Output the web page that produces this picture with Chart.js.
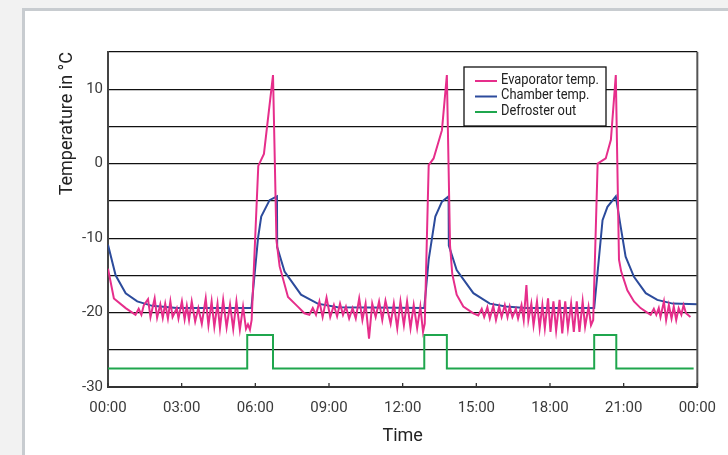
<!DOCTYPE html>
<html lang="en">
<head>
  <meta charset="UTF-8" />
  <title>Defrost cycle - Temperatures</title>
  <script src="https://cdn.jsdelivr.net/npm/chart.js"></script>
  <style>
    body {
      margin: 0;
      width: 728px;
      height: 455px;
      overflow: hidden;
      position: relative;
      background: #f2f2f2;
      font-family: Roboto, sans-serif;
    }

    .card {
      position: absolute;
      left: 22px;
      top: 8px;
      width: 760px;
      height: 500px;
      background: #ffffff;
      border: 3px solid #c8ccd0;
      box-sizing: border-box;
    }

    #tempChart {
      position: absolute;
      left: 0;
      top: 0;
    }
  </style>
</head>
<body>

  <div class="card"></div>
  <canvas id="tempChart" width="728" height="455"></canvas>

  <script>
    // x axis: hours of the day
    const timeLabels = ['00:00', '03:00', '06:00', '09:00', '12:00', '15:00', '18:00', '21:00', '00:00'];
    const tempLabelled = [-30, -20, -10, 0, 10];

    // Evaporator temp. (°C)
    const evapHours = [
      0, 0.24, 0.72, 1.12, 1.25, 1.36, 1.46, 1.63, 1.73, 1.90, 2.00, 2.13, 2.23, 2.33, 2.44, 2.54, 2.63, 2.80, 2.87,
      3.01, 3.12, 3.21, 3.30, 3.41, 3.55, 3.68, 3.82, 3.98, 4.09, 4.22, 4.33, 4.46, 4.56, 4.69, 4.83, 4.97, 5.10,
      5.23, 5.37, 5.50, 5.62, 5.70, 5.78, 5.85, 6.12, 6.35, 6.72,
      6.86, 6.99, 7.33, 7.73, 8.00, 8.20, 8.34, 8.47, 8.61, 8.74, 8.90, 9.05, 9.20, 9.33, 9.45, 9.57, 9.69, 9.82,
      9.96, 10.09, 10.23, 10.36, 10.49, 10.63, 10.76, 10.90, 11.04, 11.17, 11.30, 11.51, 11.64, 11.78, 11.91, 12.05,
      12.18, 12.32, 12.45, 12.59, 12.72, 12.83, 12.90, 13.06, 13.26, 13.60, 13.80,
      13.93, 14.02, 14.20, 14.47, 14.88, 15.08, 15.22, 15.32, 15.45, 15.55, 15.69, 15.80, 15.93, 16.03, 16.16, 16.27,
      16.36, 16.47, 16.61, 16.70, 16.84, 16.93, 17.04, 17.12, 17.24, 17.33, 17.47, 17.58, 17.69, 17.79, 17.92, 18.02,
      18.14, 18.25, 18.39, 18.50, 18.62, 18.73, 18.86, 18.97, 19.09, 19.20, 19.33, 19.43, 19.57, 19.67, 19.76, 19.94,
      20.27, 20.48, 20.68,
      20.81, 20.90, 21.15, 21.42, 21.69, 21.96, 22.10, 22.23, 22.33, 22.43, 22.50, 22.64, 22.73, 22.84, 22.95, 23.04,
      23.14, 23.24, 23.35, 23.44, 23.54, 23.72
    ];
    const evapTemps = [
      -14.1, -18.1, -19.4, -20.3, -19.5, -20.3, -19.0, -18.2, -20.6, -18.1, -20.7, -18.9, -20.7, -18.8, -20.8, -18.5, -20.6, -19.4, -20.8,
      -18.5, -20.9, -19.1, -21.0, -18.5, -21.2, -19.4, -21.5, -18.1, -21.7, -18.5, -21.9, -18.8, -22.1, -18.3, -22.0, -18.9, -22.2,
      -18.5, -22.3, -19.2, -22.2, -21.6, -22.3, -21.0, -0.3, 1.3, 11.9,
      -10.3, -13.8, -17.9, -19.2, -20.1, -20.3, -19.4, -20.3, -18.5, -20.6, -18.0, -20.6, -19.0, -20.5, -18.8, -20.3, -19.2, -20.8,
      -19.4, -20.8, -18.1, -21.0, -18.8, -23.5, -18.8, -20.6, -18.5, -21.0, -18.4, -21.5, -18.8, -22.1, -18.5, -21.7,
      -18.5, -22.1, -19.0, -22.1, -19.2, -22.6, -21.5, -0.2, 0.7, 4.5, 11.9,
      -11.0, -14.8, -17.6, -19.2, -20.1, -20.4, -19.5, -20.6, -19.3, -20.8, -19.1, -21.0, -19.2, -20.6, -19.0, -20.6,
      -19.2, -20.6, -19.5, -20.8, -19.0, -21.0, -16.3, -21.0, -18.8, -21.7, -18.5, -22.1, -19.0, -22.1, -18.1, -22.6,
      -18.5, -22.4, -18.3, -22.8, -18.5, -22.1, -18.8, -22.6, -18.5, -22.6, -18.5, -21.9, -19.2, -21.7, -21.0, 0.0,
      0.7, 3.2, 11.9,
      -12.9, -14.5, -17.0, -18.5, -19.4, -20.0, -20.3, -19.5, -20.3, -19.4, -20.6, -18.5, -21.0, -19.0, -20.8, -19.2,
      -21.0, -19.4, -20.3, -19.0, -20.1, -20.6
    ];

    // Chamber temp. (°C)
    const chamberHours = [
      0, 0.31, 0.72, 1.19, 1.8, 2.8, 5.84, 6.11, 6.24, 6.58, 6.88, 6.89, 7.19, 7.86, 8.54, 9.35,
      12.88, 13.06, 13.33, 13.6, 13.87, 13.88, 14.2, 14.88, 15.55, 16.2, 17.0,
      19.8, 20.14, 20.34, 20.68, 20.88, 21.08, 21.42, 21.9, 22.37, 23.0, 24
    ];
    const chamberTemps = [
      -10.9, -15.0, -17.4, -18.5, -19.1, -19.4, -19.4, -10.0, -7.1, -4.9, -4.4, -11.2, -14.5, -17.6, -18.8, -19.3,
      -19.4, -12.9, -7.1, -5.1, -4.4, -11.0, -14.3, -17.4, -18.8, -19.2, -19.4,
      -19.4, -7.6, -5.8, -4.4, -8.5, -12.5, -15.2, -17.4, -18.3, -18.8, -18.9
    ];

    // Defroster out (signal drawn on the temperature scale)
    const defrostHours = [0, 5.67, 5.67, 6.72, 6.72, 12.88, 12.88, 13.8, 13.8, 19.8, 19.8, 20.7, 20.7, 23.85];
    const defrostLevels = [-27.5, -27.5, -23, -23, -27.5, -27.5, -23, -23, -27.5, -27.5, -23, -23, -27.5, -27.5];

    const toPoints = (xs, ys) => xs.map((x, i) => ({ x: x, y: ys[i] }));

    const frameAndTicks = {
      id: 'frameAndTicks',
      afterDraw(chart) {
        const { ctx, chartArea: a, scales: { x } } = chart;
        ctx.save();
        ctx.strokeStyle = '#555';
        ctx.lineWidth = 2;
        ctx.beginPath();
        ctx.moveTo(a.right, a.top);
        ctx.lineTo(a.right, a.bottom);
        ctx.stroke();
        ctx.strokeStyle = '#333';
        ctx.lineWidth = 1.3;
        x.ticks.forEach(t => {
          const px = x.getPixelForValue(t.value);
          ctx.beginPath();
          ctx.moveTo(px, a.bottom - 4);
          ctx.lineTo(px, a.bottom + 1);
          ctx.stroke();
        });
        ctx.restore();
      }
    };

    // boxed legend inside the plot, text squeezed like a condensed face
    const boxLegend = {
      id: 'boxLegend',
      afterDatasetsDraw(chart) {
        const { ctx } = chart;
        const left = 464, top = 67, w = 142, h = 59;
        ctx.save();
        ctx.fillStyle = '#fff';
        ctx.fillRect(left, top, w, h);
        ctx.strokeStyle = '#111';
        ctx.lineWidth = 1.3;
        ctx.strokeRect(left, top, w, h);
        ctx.font = '14px Roboto, sans-serif';
        ctx.textBaseline = 'middle';
        ctx.fillStyle = '#222';
        const widest = Math.max(...chart.data.datasets.map(ds => ctx.measureText(ds.label).width));
        const squeeze = Math.min(1, 98 / widest);
        chart.data.datasets.forEach((ds, i) => {
          const y = top + 13 + i * 15.5;
          ctx.strokeStyle = ds.borderColor;
          ctx.lineWidth = 2;
          ctx.beginPath();
          ctx.moveTo(left + 11, y + 1);
          ctx.lineTo(left + 33, y + 1);
          ctx.stroke();
          ctx.fillText(ds.label, left + 37, y, ctx.measureText(ds.label).width * squeeze);
        });
        ctx.restore();
      }
    };

    new Chart(document.getElementById('tempChart'), {
      type: 'line',
      data: {
        datasets: [
          {
            label: 'Evaporator temp.',
            data: toPoints(evapHours, evapTemps),
            borderColor: '#e62e8b',
            borderWidth: 2,
            pointRadius: 0,
            tension: 0
          },
          {
            label: 'Chamber temp.',
            data: toPoints(chamberHours, chamberTemps),
            borderColor: '#2c4b9c',
            borderWidth: 2,
            pointRadius: 0,
            tension: 0
          },
          {
            label: 'Defroster out',
            data: toPoints(defrostHours, defrostLevels),
            borderColor: '#1fa64d',
            borderWidth: 2,
            pointRadius: 0,
            tension: 0
          }
        ]
      },
      options: {
        responsive: false,
        devicePixelRatio: 1,
        animation: false,
        layout: { padding: { left: 0, right: 26, top: 52, bottom: 0 } },
        plugins: {
          legend: { display: false },
          tooltip: { enabled: false }
        },
        scales: {
          x: {
            type: 'linear',
            min: 0,
            max: 24,
            afterFit: s => { s.height = 68; },
            grid: { drawOnChartArea: false, drawTicks: false },
            border: { display: true, color: '#333', width: 2 },
            ticks: {
              stepSize: 3,
              padding: 12,
              color: '#3a3a3a',
              font: { family: 'Roboto', size: 15 },
              maxRotation: 0,
              autoSkip: false,
              callback: (v, i) => timeLabels[i]
            },
            title: {
              display: true,
              text: 'Time',
              color: '#222',
              font: { family: 'Roboto', size: 18 },
              padding: { top: 0, bottom: 8 }
            }
          },
          y: {
            min: -30,
            max: 15,
            afterFit: s => { s.width = 108; },
            grid: { color: '#111', lineWidth: 1.2, drawTicks: false },
            border: { display: true, color: '#444', width: 2 },
            ticks: {
              stepSize: 5,
              padding: 5,
              color: '#3a3a3a',
              font: { family: 'Roboto', size: 15 },
              callback: v => tempLabelled.includes(v) ? String(v) : ''
            },
            title: {
              display: true,
              text: 'Temperature in °C',
              align: 'end',
              color: '#222',
              font: { family: 'Roboto', size: 18 },
              padding: { top: 57, bottom: 0 }
            }
          }
        }
      },
      plugins: [frameAndTicks, boxLegend]
    });
  </script>

</body>
</html>
